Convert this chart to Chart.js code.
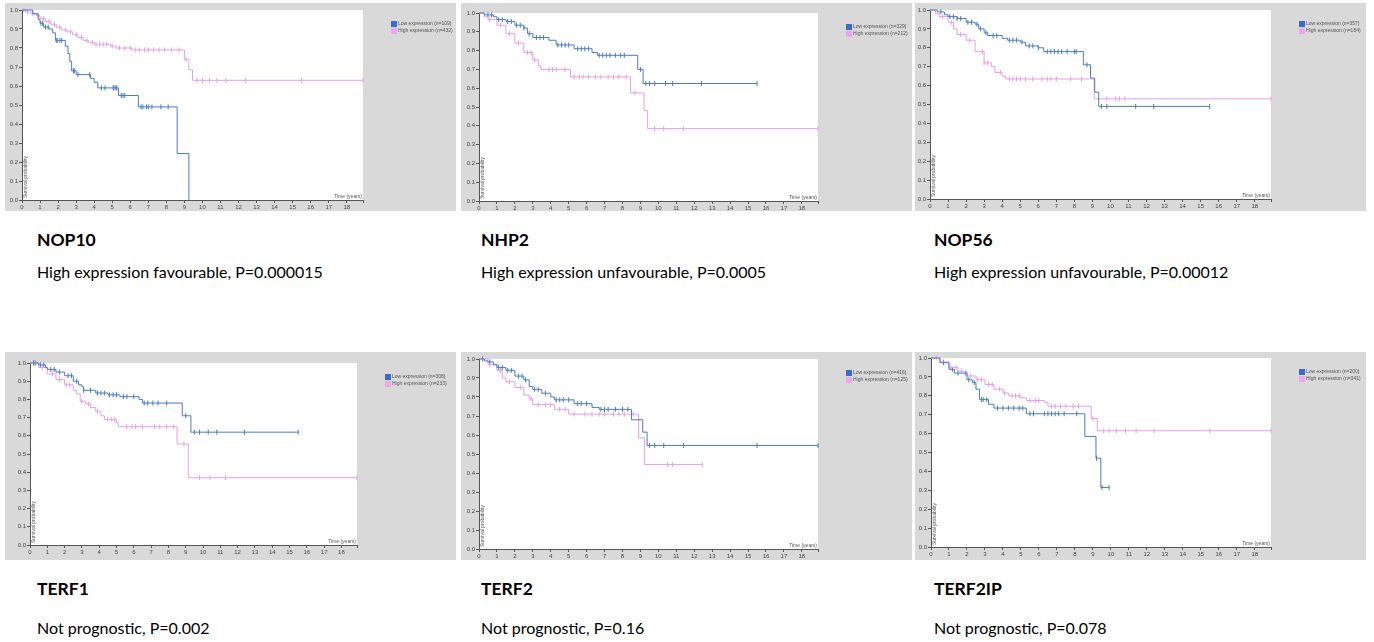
<!DOCTYPE html>
<html>
<head>
<meta charset="utf-8">
<script src="https://cdn.jsdelivr.net/npm/chart.js@4.4.1/dist/chart.umd.min.js"></script>
<style>
  body { margin: 0; background: #fff; width: 1374px; height: 642px; position: relative; overflow: hidden; }
  .panel { position: absolute; }
  .gene { position: absolute; font-family: Lato, "Open Sans", sans-serif; font-weight: bold; font-size: 17.5px; line-height: 20px; color: #000; }
  .note { position: absolute; font-family: Lato, "Open Sans", sans-serif; font-size: 16px; line-height: 18px; color: #000; }
</style>
</head>
<body>
<script>
// Kaplan-Meier steps: [time (years), survival probability] after each drop
const XMAX = 18.9;
const xTicks = [0,1,2,3,4,5,6,7,8,9,10,11,12,13,14,15,16,17,18];

const nop10Low = [[0,1],[0.6,0.98],[0.9,0.95],[1.0,0.93],[1.2,0.91],[1.5,0.90],[1.7,0.88],[1.85,0.84],[2.4,0.81],[2.55,0.77],[2.65,0.73],[2.75,0.68],[3.0,0.66],[3.8,0.64],[4.0,0.62],[4.2,0.59],[5.35,0.55],[6.45,0.49],[8.6,0.245],[9.25,0]];
const nop10LowCens = [1.05,1.15,1.3,1.45,1.9,1.95,2.1,2.2,2.85,2.9,3.1,3.75,4.4,4.6,5.05,5.1,5.2,5.25,5.5,5.6,5.7,6.6,6.7,6.9,7.0,7.2,7.7,8.1];
const nop10High = [[0,1],[0.2,0.99],[0.5,0.98],[0.8,0.97],[1.0,0.955],[1.3,0.94],[1.6,0.925],[1.9,0.91],[2.2,0.895],[2.5,0.885],[2.8,0.87],[3.1,0.855],[3.4,0.84],[3.7,0.83],[4.0,0.82],[4.9,0.81],[5.2,0.80],[6.1,0.79],[9.0,0.74],[9.25,0.685],[9.45,0.63],[18.9,0.63]];
const nop10HighCens = [0.1,0.3,0.6,0.9,1.2,1.5,1.8,2.1,2.4,2.7,3.0,3.3,3.6,3.9,4.1,4.3,4.5,4.7,5.0,5.4,5.7,6.0,6.3,6.5,6.8,7.0,7.3,7.6,7.9,8.3,8.7,9.1,9.7,10.0,10.4,10.8,11.3,12.4,15.5,18.9];

const nhp2Low = [[0,1],[0.3,0.99],[0.8,0.98],[1.0,0.965],[1.5,0.955],[2.0,0.935],[2.5,0.92],[2.7,0.89],[3.0,0.87],[3.9,0.855],[4.3,0.83],[5.3,0.81],[6.3,0.79],[6.6,0.775],[8.85,0.70],[9.15,0.625],[15.5,0.625]];
const nhp2LowCens = [0.5,0.7,1.1,1.3,1.6,1.8,2.1,2.3,2.5,2.8,3.2,3.4,3.6,4.4,4.6,4.8,5.0,5.5,5.7,5.9,6.1,6.7,6.9,7.1,7.3,7.6,7.9,8.1,9.0,9.3,9.5,9.8,10.4,10.8,12.4,15.5];
const nhp2High = [[0,1],[0.3,0.98],[0.5,0.965],[1.0,0.935],[1.5,0.89],[2.0,0.84],[2.5,0.79],[3.0,0.75],[3.3,0.72],[3.45,0.70],[5.1,0.66],[8.45,0.575],[9.2,0.48],[9.4,0.385],[18.9,0.385]];
const nhp2HighCens = [0.6,1.2,1.7,2.2,2.7,2.9,3.1,3.9,4.1,4.3,4.8,5.3,5.6,5.8,6.1,6.5,6.8,7.2,7.5,7.8,8.2,8.7,9.8,10.3,11.4,18.9];

const nop56Low = [[0,1],[0.4,0.99],[0.8,0.975],[1.0,0.965],[1.5,0.955],[2.0,0.935],[2.5,0.925],[2.7,0.90],[3.0,0.88],[3.2,0.865],[4.0,0.85],[4.3,0.84],[5.0,0.83],[5.3,0.81],[6.0,0.80],[6.3,0.78],[8.5,0.71],[8.9,0.64],[9.13,0.565],[9.35,0.49],[15.5,0.49]];
const nop56LowCens = [0.6,1.1,1.3,1.5,1.7,2.1,2.3,2.6,2.8,3.1,3.5,3.7,4.4,4.6,4.8,5.1,5.5,5.7,6.0,6.5,6.7,6.9,7.1,7.3,7.6,8.0,8.1,8.7,9.5,9.8,11.4,12.4,15.5];
const nop56High = [[0,1],[0.3,0.98],[0.5,0.965],[1.0,0.935],[1.3,0.90],[1.5,0.87],[2.0,0.84],[2.5,0.78],[3.0,0.72],[3.4,0.70],[3.6,0.67],[4.0,0.65],[4.2,0.635],[9.1,0.53],[18.9,0.53]];
const nop56HighCens = [0.7,1.2,1.7,2.2,2.9,3.0,3.2,3.9,4.4,4.6,4.8,5.0,5.3,5.7,6.2,6.5,6.7,7.0,7.8,8.4,9.8,10.3,10.5,10.8,18.9];

const terf1Low = [[0,1],[0.5,0.99],[0.9,0.975],[1.0,0.965],[1.5,0.95],[2.0,0.93],[2.5,0.90],[2.8,0.88],[3.0,0.87],[3.1,0.85],[3.8,0.835],[4.5,0.825],[5.2,0.815],[6.3,0.80],[6.5,0.78],[8.8,0.71],[9.3,0.62],[15.5,0.62]];
const terf1LowCens = [0.2,0.3,0.6,0.8,1.2,1.4,1.7,2.2,2.4,2.7,3.1,3.5,3.9,4.1,4.3,4.6,4.8,5.0,5.4,5.6,6.0,6.6,6.8,7.1,7.4,7.9,9.0,9.5,9.8,10.3,10.8,12.4,15.5];
const terf1High = [[0,1],[0.5,0.975],[1.0,0.94],[1.5,0.91],[2.0,0.88],[2.5,0.85],[2.7,0.83],[2.9,0.79],[3.2,0.775],[3.5,0.755],[3.8,0.735],[4.1,0.71],[4.3,0.69],[5.0,0.67],[5.1,0.65],[8.5,0.555],[9.15,0.37],[18.9,0.37]];
const terf1HighCens = [0.3,0.7,1.3,1.7,2.1,2.3,3.0,3.4,3.9,4.5,4.7,4.9,5.6,5.9,6.1,6.5,7.2,7.5,7.9,8.3,8.9,9.8,10.4,11.3,18.9];

const terf2Low = [[0,1],[0.3,0.99],[0.5,0.985],[0.8,0.97],[1.0,0.955],[1.5,0.94],[2.0,0.91],[2.5,0.89],[2.8,0.855],[3.0,0.84],[3.5,0.82],[4.0,0.80],[4.2,0.785],[5.3,0.765],[6.3,0.745],[6.7,0.735],[8.5,0.68],[9.13,0.615],[9.37,0.545],[18.9,0.545]];
const terf2LowCens = [0.2,0.6,1.1,1.3,1.6,1.8,2.2,2.4,2.6,3.1,3.3,3.7,4.3,4.5,4.7,5.0,5.5,5.7,6.0,6.8,7.0,7.2,7.6,8.0,8.3,9.5,9.8,10.3,11.4,15.5,18.9];
const terf2High = [[0,1],[0.5,0.97],[1.0,0.94],[1.3,0.90],[1.5,0.88],[2.0,0.85],[2.5,0.81],[2.8,0.79],[3.0,0.76],[4.2,0.735],[5.0,0.71],[8.9,0.585],[9.22,0.445],[12.45,0.445]];
const terf2HighCens = [0.6,1.2,1.7,2.3,2.9,3.3,3.7,4.0,4.5,4.8,5.3,5.9,6.3,6.7,7.0,7.5,7.8,8.1,8.6,10.5,10.8,12.45];

const terf2ipLow = [[0,1],[0.5,0.975],[1.0,0.94],[1.3,0.92],[2.0,0.885],[2.3,0.87],[2.5,0.835],[2.7,0.78],[3.2,0.755],[3.5,0.735],[5.3,0.705],[8.55,0.585],[9.17,0.47],[9.44,0.315],[9.9,0.315]];
const terf2ipLowCens = [0.7,1.2,1.5,1.9,2.1,2.4,2.8,2.9,3.1,3.7,4.0,4.3,4.6,4.9,5.1,5.5,5.7,6.3,6.5,6.7,6.9,7.1,7.4,8.1,9.2,9.5,9.9];
const terf2ipHigh = [[0,1],[0.5,0.98],[1.0,0.95],[1.5,0.93],[2.0,0.905],[2.5,0.885],[3.0,0.86],[3.5,0.835],[4.0,0.815],[4.3,0.80],[5.0,0.79],[5.3,0.775],[6.3,0.765],[6.5,0.745],[8.9,0.68],[9.24,0.615],[18.9,0.615]];
const terf2ipHighCens = [0.3,0.7,1.1,1.4,1.7,2.2,2.6,2.8,3.2,3.4,3.8,4.1,4.5,4.7,4.9,5.5,5.8,6.0,6.7,6.9,7.2,7.5,7.9,8.2,9.0,9.6,9.9,10.3,10.8,11.4,12.4,15.5,18.9];

const genes = ['NOP10', 'NHP2', 'NOP56', 'TERF1', 'TERF2', 'TERF2IP'];
const notes = ['High expression favourable, P=0.000015', 'High expression unfavourable, P=0.0005', 'High expression unfavourable, P=0.00012',
               'Not prognostic, P=0.002', 'Not prognostic, P=0.16', 'Not prognostic, P=0.078'];
const lowN = [109, 329, 357, 308, 416, 200];
const highN = [432, 212, 184, 233, 125, 341];
const lowSteps = [nop10Low, nhp2Low, nop56Low, terf1Low, terf2Low, terf2ipLow];
const lowCens = [nop10LowCens, nhp2LowCens, nop56LowCens, terf1LowCens, terf2LowCens, terf2ipLowCens];
const highSteps = [nop10High, nhp2High, nop56High, terf1High, terf2High, terf2ipHigh];
const highCens = [nop10HighCens, nhp2HighCens, nop56HighCens, terf1HighCens, terf2HighCens, terf2ipHighCens];

const BLUE = '#4a7bc6';
const PINK = '#e5a0e5';
const BLUE_BOX = '#3b6cc6';
const PINK_BOX = '#eaa8ea';

// layout: panel left/top and plot area [left, top, right, bottom] inside the panel
const PANEL_W = 451, PANEL_H = 208;
const panelPos = [[5, 3], [461, 3], [915, 3], [5, 352], [461, 352], [915, 352]];
const plotBox = [[17, 7, 358, 197], [18, 10, 357, 198], [15, 7, 356, 196], [25, 11, 352, 193], [18, 7, 357, 197], [16, 6, 356, 195]];
const textX = [37, 481, 934];
const geneY = [230, 579];
const noteY = [263, 619];

function survAt(steps, t) {
    let s = steps[0][1];
    for (const [x, y] of steps) if (x <= t) s = y;
    return s;
}

const panelBg = {
    id: 'panelBg',
    beforeDraw(chart) {
        const { ctx, chartArea: a } = chart;
        ctx.save();
        ctx.fillStyle = '#d9d9d9';
        ctx.fillRect(0, 0, chart.width, chart.height);
        ctx.fillStyle = '#ffffff';
        ctx.fillRect(a.left, a.top, a.width, a.height);
        ctx.restore();
    },
    afterDraw(chart) {
        const { ctx, chartArea: a } = chart;
        ctx.save();
        // legend
        ctx.font = '5px "Liberation Sans", Arial, sans-serif';
        ctx.textBaseline = 'middle';
        const items = chart.data.datasets.filter(d => !d.censor);
        items.forEach((d, i) => {
            const y = a.top + 14 + i * 7;
            const x = a.right + 28;
            ctx.fillStyle = d.boxColor;
            ctx.fillRect(x, y - 3, 6, 6);
            ctx.fillStyle = '#555';
            ctx.fillText(d.label, x + 7, y);
        });
        // axis captions inside the plot
        ctx.fillStyle = '#555';
        ctx.textBaseline = 'alphabetic';
        ctx.textAlign = 'right';
        ctx.fillText('Time (years)', a.right - 1, a.bottom - 2);
        ctx.translate(a.left + 5, a.bottom - 2);
        ctx.rotate(-Math.PI / 2);
        ctx.textAlign = 'left';
        ctx.fillText('Survival probability', 0, 0);
        ctx.restore();
    }
};

function makePanel(i) {
    const [px, py] = panelPos[i];
    const [l, t, r, b] = plotBox[i];
    const canvas = document.createElement('canvas');
    canvas.className = 'panel';
    canvas.width = PANEL_W;
    canvas.height = PANEL_H;
    canvas.style.left = px + 'px';
    canvas.style.top = py + 'px';
    canvas.style.width = PANEL_W + 'px';
    canvas.style.height = PANEL_H + 'px';
    document.body.appendChild(canvas);

    const curve = (label, steps, color, box) => ({
        label: label,
        data: steps.map(([x, y]) => ({ x: x, y: y })),
        stepped: 'before',
        borderColor: color,
        boxColor: box,
        borderWidth: 1,
        pointRadius: 0,
        fill: false,
        clip: false
    });
    const ticks = (cens, steps, color) => ({
        censor: true,
        data: cens.map(x => ({ x: x, y: survAt(steps, x) })),
        showLine: false,
        pointStyle: 'line',
        pointRotation: 90,
        pointRadius: 2.5,
        pointBorderWidth: 1,
        borderColor: color,
        backgroundColor: color,
        clip: false
    });

    const gridOpts = { drawOnChartArea: false, tickLength: 3, color: '#555', lineWidth: 1 };
    new Chart(canvas, {
        type: 'line',
        data: {
            datasets: [
                curve('Low expression (n=' + lowN[i] + ')', lowSteps[i], BLUE, BLUE_BOX),
                curve('High expression (n=' + highN[i] + ')', highSteps[i], PINK, PINK_BOX),
                ticks(lowCens[i], lowSteps[i], BLUE),
                ticks(highCens[i], highSteps[i], PINK)
            ]
        },
        options: {
            responsive: false,
            animation: false,
            layout: { padding: { left: l - 17, top: t, right: PANEL_W - r, bottom: PANEL_H - b - 12 } },
            plugins: { legend: { display: false }, tooltip: { enabled: false } },
            scales: {
                x: {
                    type: 'linear',
                    min: 0,
                    max: XMAX,
                    afterFit: s => { s.height = 12; },
                    afterBuildTicks: s => { s.ticks = xTicks.concat([XMAX]).map(v => ({ value: v })); },
                    ticks: {
                        autoSkip: false,
                        maxRotation: 0,
                        padding: 1,
                        color: '#444',
                        font: { size: 6, family: '"Liberation Sans", Arial, sans-serif' },
                        callback: v => Number.isInteger(v) ? String(v) : ''
                    },
                    grid: gridOpts,
                    border: { color: '#555', width: 1 }
                },
                y: {
                    min: 0,
                    max: 1,
                    afterFit: s => { s.width = 17; },
                    ticks: {
                        stepSize: 0.1,
                        padding: 1,
                        color: '#444',
                        font: { size: 6, family: '"Liberation Sans", Arial, sans-serif' },
                        callback: v => v.toFixed(1)
                    },
                    grid: gridOpts,
                    border: { color: '#555', width: 1 }
                }
            }
        },
        plugins: [panelBg]
    });

    const col = i % 3, row = Math.floor(i / 3);
    const g = document.createElement('div');
    g.className = 'gene';
    g.textContent = genes[i];
    g.style.left = textX[col] + 'px';
    g.style.top = geneY[row] + 'px';
    document.body.appendChild(g);
    const n = document.createElement('div');
    n.className = 'note';
    n.textContent = notes[i];
    n.style.left = textX[col] + 'px';
    n.style.top = noteY[row] + 'px';
    document.body.appendChild(n);
}

for (let i = 0; i < genes.length; i++) makePanel(i);
</script>
</body>
</html>
